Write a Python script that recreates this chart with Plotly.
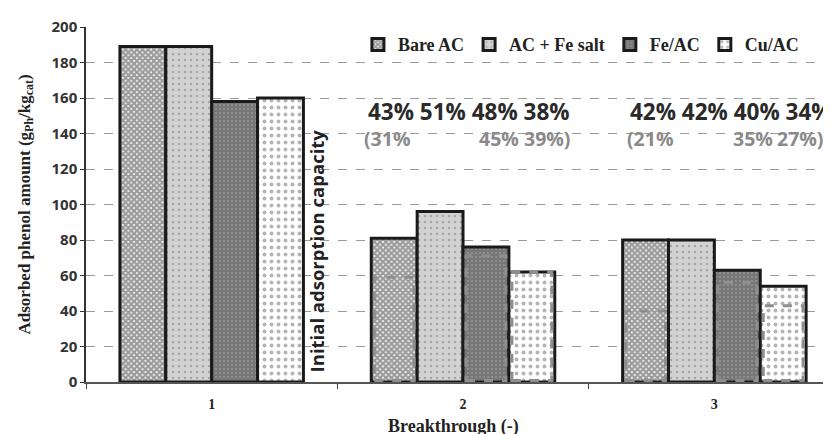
import plotly.graph_objects as go

categories = ["1", "2", "3"]
series_names = ["Bare AC", "AC + Fe salt", "Fe/AC", "Cu/AC"]
bare_ac = [189, 81, 80]
ac_fe_salt = [189, 96, 80]
fe_ac = [158, 76, 63]
cu_ac = [160, 62, 54]
# inner (dashed) values shown for breakthroughs 2 and 3
bare_ac_inner = [None, 59, 40]
ac_fe_salt_inner = [None, None, None]
fe_ac_inner = [None, 71, 56]
cu_ac_inner = [None, 62, 43]
# percentage labels (of initial adsorption capacity)
pct_main = ["43% 51% 48% 38%", "42% 42% 40% 34%"]
pct_main_x = [0.612, 1.655]
pct_inner = ["(31%", "45%", "39%)", "(21%", "35%", "27%)"]
pct_inner_x = [0.598, 1.055, 1.236, 1.645, 2.066, 2.243]

values = [bare_ac, ac_fe_salt, fe_ac, cu_ac]
inners = [bare_ac_inner, ac_fe_salt_inner, fe_ac_inner, cu_ac_inner]

patterns = [
    dict(shape="x", bgcolor="white", fgcolor="#3a3a3a", size=4, solidity=0.8),
    dict(shape=".", bgcolor="#d2d2d2", fgcolor="#7a7a7a", size=6, solidity=0.15),
    dict(shape=".", bgcolor="#777777", fgcolor="#b4b4b4", size=4, solidity=0.2),
    dict(shape=".", bgcolor="white", fgcolor="#6a6a6a", size=7, solidity=0.25),
]

fig = go.Figure()
for name, vals, pat in zip(series_names, values, patterns):
    fig.add_trace(go.Bar(
        x=categories, y=vals, name=name,
        marker=dict(color=pat["bgcolor"], pattern=pat,
                    line=dict(color="#1a1a1a", width=3)),
    ))

bargap = 0.27
w = (1 - bargap) / len(series_names)
shapes = []
annotations = []
for i, inner in enumerate(inners):
    for j, v in enumerate(inner):
        if v is None:
            continue
        xc = j + (i - 1.5) * w
        shapes.append(dict(type="rect", xref="x", yref="y",
                           x0=xc - w / 2 + 0.012, x1=xc + w / 2 - 0.012, y0=0.8, y1=v,
                           line=dict(color="#8e8e8e", width=3, dash="dash"),
                           fillcolor="rgba(0,0,0,0)", layer="above"))

for txt, xv in zip(pct_main, pct_main_x):
    annotations.append(dict(x=xv, y=152.5, xref="x", yref="y", text=txt, xanchor="left",
                            showarrow=False,
                            font=dict(family="Open Sans", size=22.5, color="#2a2a2a", weight="bold")))
for txt, xv in zip(pct_inner, pct_inner_x):
    annotations.append(dict(x=xv, y=137, xref="x", yref="y", text=txt, xanchor="left",
                            showarrow=False,
                            font=dict(family="Open Sans", size=19.5, color="#8a8a8a", weight="bold")))

annotations.append(dict(x=0.418, y=74, xref="x", yref="y", text="Initial adsorption capacity",
                        textangle=-90, showarrow=False,
                        font=dict(family="Open Sans", size=18.5, color="#222", weight="bold")))
annotations.append(dict(x=0, y=0.5, xref="paper", yref="paper", xshift=-61, xanchor="center",
                        yanchor="middle",
                        text="Adsorbed phenol amount (g<sub>Ph</sub>/kg<sub>cat</sub>)",
                        textangle=-90, showarrow=False,
                        font=dict(family="Liberation Serif", size=17, color="#222", weight="bold")))
annotations.append(dict(x=0.493, y=0, xref="paper", yref="paper", yshift=-44,
                        xanchor="center", yanchor="middle",
                        text="Breakthrough (-)", showarrow=False,
                        font=dict(family="Liberation Serif", size=18, color="#222", weight="bold")))

fig.update_layout(
    width=831, height=434,
    margin=dict(l=78, r=8, t=11, b=60),
    paper_bgcolor="white", plot_bgcolor="white",
    barmode="group", bargap=bargap, bargroupgap=0,
    showlegend=True,
    legend=dict(orientation="h", x=0.365, y=0.95, xanchor="left", yanchor="middle",
                font=dict(family="Liberation Serif", size=18, color="#222", weight="bold"),
                bgcolor="rgba(255,255,255,0)", itemwidth=30, tracegroupgap=0),
    shapes=shapes, annotations=annotations,
    xaxis=dict(type="category", range=[-0.5, 2.464], tickson="boundaries",
               ticks="outside", ticklen=5, tickcolor="#444",
               showline=True, linecolor="#555", linewidth=1.5, showgrid=False,
               tickfont=dict(family="Liberation Serif", size=14, color="#222", weight="bold"),
               ticklabelstandoff=8),
    yaxis=dict(range=[0, 200], dtick=20, ticks="outside", ticklen=4, tickcolor="#333",
               showline=True, linecolor="#333", linewidth=1.5,
               showgrid=True, gridcolor="#9a9a9a", griddash="dash", gridwidth=1,
               zeroline=False,
               tickfont=dict(family="Open Sans", size=15, color="#333", weight="bold")),
)

fig.write_html("out.html")
